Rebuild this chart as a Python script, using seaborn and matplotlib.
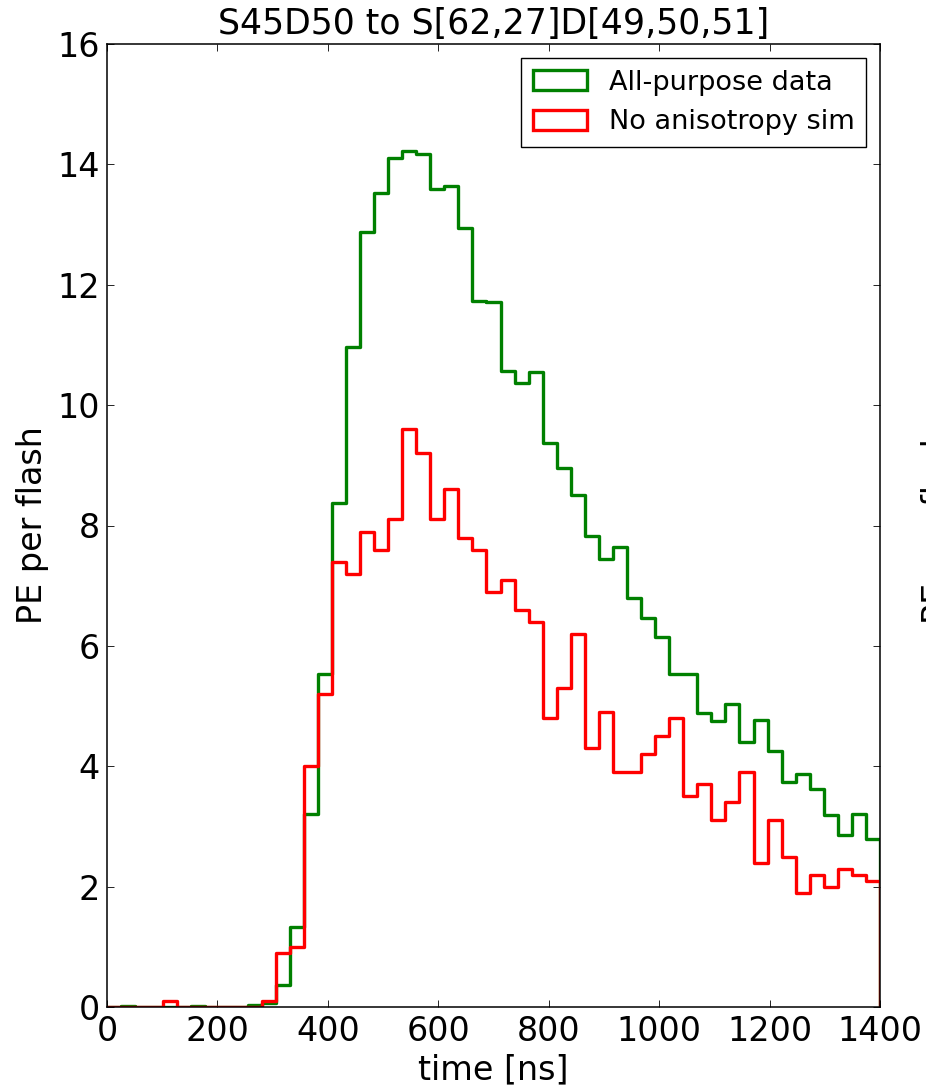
import numpy as np
import pandas as pd
import matplotlib
matplotlib.use("Agg")
import matplotlib.pyplot as plt
from matplotlib.patches import Patch
import seaborn as sns

# Histogram binning: 55 equal bins spanning 0-1400 ns
t_min, t_max, n_bins = 0.0, 1400.0, 55

# PE per flash in each time bin
data_pe = [0, 0.015, 0, 0, 0, 0, 0.015, 0, 0, 0,
           0.03, 0.06, 0.37, 1.33, 3.20, 5.54, 8.38, 10.97, 12.88, 13.52,
           14.11, 14.22, 14.17, 13.59, 13.64, 12.94, 11.73, 11.71, 10.56, 10.37,
           10.55, 9.37, 8.95, 8.51, 7.83, 7.45, 7.64, 6.80, 6.47, 6.15,
           5.53, 5.54, 4.88, 4.76, 5.03, 4.41, 4.77, 4.25, 3.74, 3.87,
           3.62, 3.19, 2.85, 3.20, 2.79]
sim_pe = [0, 0, 0, 0, 0.1, 0, 0, 0, 0, 0,
          0, 0.1, 0.9, 1.0, 4.0, 5.2, 7.4, 7.2, 7.9, 7.6,
          8.1, 9.6, 9.2, 8.1, 8.6, 7.8, 7.6, 6.9, 7.1, 6.6,
          6.4, 4.8, 5.3, 6.2, 4.3, 4.9, 3.9, 3.9, 4.2, 4.5,
          4.8, 3.5, 3.7, 3.1, 3.4, 3.9, 2.4, 3.1, 2.5, 1.9,
          2.2, 2.0, 2.3, 2.2, 2.1]

series_names = ["All-purpose data", "No anisotropy sim"]
series_colors = ["green", "red"]

title = "S45D50 to S[62,27]D[49,50,51]"
xlabel = "time [ns]"
ylabel = "PE per flash"
xticks = [0, 200, 400, 600, 800, 1000, 1200, 1400]
yticks = [0, 2, 4, 6, 8, 10, 12, 14, 16]

sns.set_style("ticks")
plt.rcParams.update({
    "font.family": ["DejaVu Sans"],
    "text.color": "black",
    "axes.labelcolor": "black",
    "xtick.color": "black",
    "ytick.color": "black",
    "xtick.direction": "in",
    "ytick.direction": "in",
    "xtick.top": True,
    "ytick.right": True,
    "xtick.major.size": 5,
    "ytick.major.size": 5,
    "xtick.major.width": 0.6,
    "ytick.major.width": 0.6,
    "xtick.major.pad": 6,
    "ytick.major.pad": 5,
    "axes.edgecolor": "black",
    "axes.linewidth": 1.1,
})

edges = np.linspace(t_min, t_max, n_bins + 1)
width = edges[1] - edges[0]
# one empty bin on each side so the outline closes down to zero at both ends
padded_edges = np.concatenate([[t_min - width], edges, [t_max + width]])

frames = []
for name, vals in zip(series_names, [data_pe, sim_pe]):
    heights = np.concatenate([[0.0], np.asarray(vals, float), [0.0]])
    frames.append(pd.DataFrame({
        "edge": padded_edges,
        "pe": np.append(heights, heights[-1]),   # steps-post needs a value at the last edge
        "series": name,
    }))
df = pd.concat(frames, ignore_index=True)

fig = plt.figure(figsize=(9.26, 10.91), dpi=100)
ax = fig.add_axes([107 / 926, 1 - 1007 / 1091, (880 - 107) / 926, (1007 - 44) / 1091])

for name, color in zip(series_names, series_colors):
    sns.lineplot(data=df[df["series"] == name], x="edge", y="pe",
                 estimator=None, sort=False, drawstyle="steps-post",
                 color=color, linewidth=2.4, ax=ax, legend=False)

ax.set_xlim(t_min, t_max)
ax.set_ylim(0, 16)
ax.set_xticks(xticks)
ax.set_yticks(yticks)
ax.tick_params(labelsize=24, colors="black")
for s in ax.spines.values():
    s.set_visible(True)
ax.set_xlabel(xlabel, fontsize=24, labelpad=4)
ax.set_ylabel(ylabel, fontsize=24, labelpad=6)
ax.set_title(title, fontsize=25, pad=7)

handles = [Patch(facecolor="none", edgecolor=c, linewidth=2.4) for c in series_colors]
leg = ax.legend(handles, series_names, loc="upper right", fontsize=19.5,
                fancybox=False, framealpha=1.0, edgecolor="black",
                handlelength=2.0, handleheight=0.75, borderpad=0.45)
leg.get_frame().set_linewidth(1.0)
for txt in leg.get_texts():
    txt.set_color("black")

# y label of the neighbouring panel, mostly beyond the figure edge
fig.text(921 / 926, 1 - 525 / 1091, ylabel, rotation=90, fontsize=24,
         ha="left", va="center", color="black")

fig.savefig("out.png", dpi=100)
